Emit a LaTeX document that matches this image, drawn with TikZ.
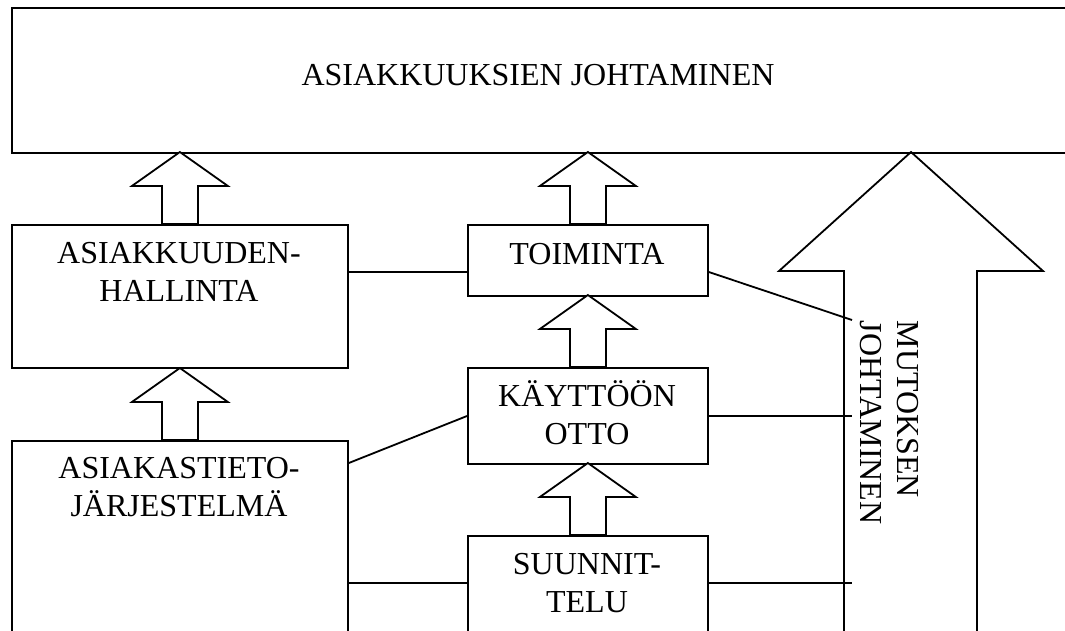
\documentclass[tikz,border=0pt]{standalone}
\usepackage{fontspec}
\setmainfont{Liberation Serif}
\begin{document}
\begin{tikzpicture}[x=1pt,y=-1pt,line width=1.8pt,
  box/.style={draw,rectangle,inner sep=0pt,anchor=north west},
  txt/.style={font=\fontsize{32}{37.5}\selectfont,align=center,inner sep=0pt},
  arr/.style={draw,fill=white,line join=miter},
  blockup/.pic={\draw[arr] (-18,0) -- (-18,-38) -- (-48,-38) -- (0,-72) -- (48,-38) -- (18,-38) -- (18,0) -- cycle;}]
\useasboundingbox (0,0) rectangle (1065,630);
\clip (0,0) rectangle (1065,630);
% boxes
\node[box,minimum width=1069pt,minimum height=145pt] (top) at (11,7) {};
\node[box,minimum width=336pt,minimum height=143pt] (hall) at (11,224) {};
\node[box,minimum width=336pt,minimum height=205pt] (tieto) at (11,440) {};
\node[box,minimum width=240pt,minimum height=71pt] (toim) at (467,224) {};
\node[box,minimum width=240pt,minimum height=96pt] (kayt) at (467,367) {};
\node[box,minimum width=240pt,minimum height=110pt] (suun) at (467,535) {};
% big arrow
\draw[line join=miter] (844,640) -- (844,271) -- (779,271) -- (911,152) -- (1043,271) -- (977,271) -- (977,640);
% block arrows
\pic at (hall.north) {blockup};
\pic at (tieto.north) {blockup};
\pic at (toim.north) {blockup};
\pic at (kayt.north) {blockup};
\pic at (suun.north) {blockup};
% connector ends
\coordinate (m1) at (852,320);
\coordinate (m2) at (852,416);
\coordinate (m3) at (852,583);
% connectors
\draw ([yshift=-48pt]hall.north east) -- ([yshift=-48pt]toim.north west);
\draw ([yshift=-23pt]tieto.north east) -- ([yshift=-49pt]kayt.north west);
\draw ([yshift=-143pt]tieto.north east) -- ([yshift=-48pt]suun.north west);
\draw ([yshift=-48pt]toim.north east) -- (m1);
\draw ([yshift=-49pt]kayt.north east) -- (m2);
\draw ([yshift=-48pt]suun.north east) -- (m3);
% texts (base anchor = baseline of last line)
\node[txt,anchor=base] (topT) at (538,85) {ASIAKKUUKSIEN JOHTAMINEN};
\node[txt,anchor=base] (hallT) at (179,301) {ASIAKKUUDEN-\\HALLINTA};
\node[txt,anchor=base] (tietoT) at (179,516) {ASIAKASTIETO-\\JÄRJESTELMÄ};
\node[txt,anchor=base] (toimT) at (587,264) {TOIMINTA};
\node[txt,anchor=base] (kaytT) at (587,444) {KÄYTTÖÖN\\OTTO};
\node[txt,anchor=base] (suunT) at (587,612) {SUUNNIT-\\TELU};
\node[txt,align=left,rotate=-90,anchor=north west] (mutT) at (920,320) {MUTOKSEN\\JOHTAMINEN};
\end{tikzpicture}
\end{document}
